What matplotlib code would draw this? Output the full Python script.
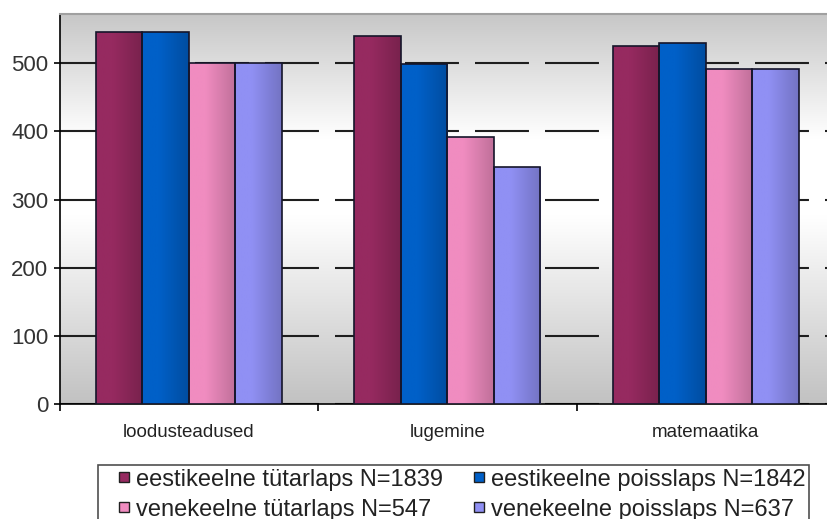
import numpy as np
import matplotlib
matplotlib.use("Agg")
import matplotlib.pyplot as plt
from matplotlib.lines import Line2D
from matplotlib.colors import to_rgb

plt.rcParams['font.family'] = ['Liberation Sans', 'DejaVu Sans']

categories = ['loodusteadused', 'lugemine', 'matemaatika']
series = ['eestikeelne tütarlaps N=1839', 'eestikeelne poisslaps N=1842',
          'venekeelne tütarlaps N=547', 'venekeelne poisslaps N=637']
values = [
    [546, 540, 525],   # eestikeelne tütarlaps
    [546, 498, 529],   # eestikeelne poisslaps
    [500, 392, 491],   # venekeelne tütarlaps
    [500, 348, 491],   # venekeelne poisslaps
]
colors = ['#962a60', '#0060c8', '#f08cc0', '#9090f4']
yticks = [0, 100, 200, 300, 400, 500]

fig = plt.figure(figsize=(8.27, 5.19), dpi=100)
ax = fig.add_axes([59.5/827, 114.7/519, (835-59.5)/827, (404.3-14)/519])

# background: grey -> white -> grey
t = np.linspace(0, 1, 256)
shade = np.interp(t, [0, 0.32, 0.52, 1], [0.78, 1.0, 1.0, 0.76])
bg = np.dstack([shade, shade, shade])[::-1]
bg = bg.reshape(256, 1, 3)
ax.imshow(bg, extent=[0, 1, 0, 1], transform=ax.transAxes, aspect='auto',
          zorder=0, interpolation='bilinear')

x = np.arange(len(categories))
w = 0.18
offsets = (np.arange(4) - 1.5) * w

# horizontal shading on bars
xs = np.linspace(0, 1, 64)
fac = np.interp(xs, [0, 0.35, 1], [1.0, 1.0, 0.8])
for i, s in enumerate(series):
    bars = ax.bar(x + offsets[i], values[i], w, color=colors[i], zorder=3,
                  linewidth=0)
    base = np.array(to_rgb(colors[i]))
    grad = (fac[:, None] * base[None, :]).reshape(1, 64, 3)
    for r in bars:
        im = ax.imshow(grad, extent=[r.get_x(), r.get_x() + r.get_width(), 0, r.get_height()],
                       aspect='auto', zorder=3.1, interpolation='bilinear')
        im.set_clip_path(r)
    ax.bar(x + offsets[i], values[i], w, fill=False, edgecolor='#15152a',
           linewidth=1.2, zorder=3.2)

ax.set_xlim(-0.5, 2.5)
ax.set_ylim(0, 572)

ax.set_axisbelow(True)
ax.yaxis.grid(True, color='#1e1e1e', linewidth=1.5,
              linestyle=(2.4, (25.9, 7.7)), zorder=1)

ax.set_yticks(yticks)
ax.set_yticklabels([str(v) for v in yticks], fontsize=16, color='#333333')
ax.tick_params(axis='y', direction='out', length=4.5, width=1.2, pad=3.5)

ax.set_xticks([-0.5, 0.5, 1.5, 2.5])
ax.set_xticklabels([])
ax.tick_params(axis='x', which='major', direction='out', length=5, width=1.2)
ax.set_xticks(x, minor=True)
ax.set_xticklabels(categories, minor=True, fontsize=13.5, color='#222222')
ax.tick_params(axis='x', which='minor', length=0, pad=14)

for side in ['left', 'bottom']:
    ax.spines[side].set_color('black')
    ax.spines[side].set_linewidth(1.2)
ax.spines['top'].set_color('#a0a0a0')
ax.spines['top'].set_linewidth(1.5)
ax.spines['right'].set_visible(False)

handles = [Line2D([], [], marker='s', linestyle='none', markersize=7.5,
                  markerfacecolor=c, markeredgecolor='#202020', markeredgewidth=1.0)
           for c in colors]
order = [0, 2, 1, 3]
leg = fig.legend([handles[k] for k in order], [series[k] for k in order], ncol=2,
                 loc='upper left', bbox_to_anchor=(98/827, 1 - 465/519),
                 fontsize=17, frameon=True, fancybox=False, borderpad=0.15,
                 handlelength=1.9, handletextpad=-0.45, columnspacing=0.6,
                 labelspacing=0.34, borderaxespad=0)
leg.get_frame().set_edgecolor('#222222')
leg.get_frame().set_linewidth(1.2)
for txt in leg.get_texts():
    txt.set_color('#222222')

fig.savefig('out.png', dpi=100)
